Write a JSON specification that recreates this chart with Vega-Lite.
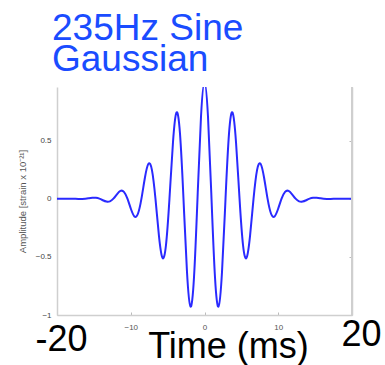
{
  "$schema": "https://vega.github.io/schema/vega-lite/v6.json",
  "width": 295,
  "height": 228,
  "autosize": "none",
  "padding": {"left": 57, "top": 87, "right": 33, "bottom": 50},
  "background": "white",
  "config": {
    "view": {"stroke": null},
    "font": "Liberation Sans",
    "axis": {"grid": false}
  },
  "title": {
    "text": ["235Hz Sine", "Gaussian"],
    "font": "Liberation Sans",
    "fontSize": 37,
    "fontWeight": "normal",
    "color": "#1a4cff",
    "anchor": "start",
    "frame": "group",
    "dx": -5,
    "lineHeight": 31,
    "offset": 7
  },
  "data": {
    "values": [
      {"t": -20, "amp": 0},
      {"t": -18.05, "amp": 0},
      {"t": -17.1, "amp": -0.0023},
      {"t": -16.15, "amp": 0},
      {"t": -15.675, "amp": 0.0042},
      {"t": -15.2, "amp": 0.0081},
      {"t": -14.725, "amp": 0.0077},
      {"t": -14.25, "amp": 0},
      {"t": -13.775, "amp": -0.0136},
      {"t": -13.3, "amp": -0.0251},
      {"t": -12.825, "amp": -0.023},
      {"t": -12.35, "amp": 0},
      {"t": -11.875, "amp": 0.0375},
      {"t": -11.4, "amp": 0.0667},
      {"t": -10.925, "amp": 0.0588},
      {"t": -10.45, "amp": 0},
      {"t": -9.975, "amp": -0.089},
      {"t": -9.5, "amp": -0.1526},
      {"t": -9.025, "amp": -0.1296},
      {"t": -8.55, "amp": 0},
      {"t": -8.075, "amp": 0.1818},
      {"t": -7.6, "amp": 0.3002},
      {"t": -7.125, "amp": 0.2456},
      {"t": -6.65, "amp": 0},
      {"t": -6.175, "amp": -0.3195},
      {"t": -5.7, "amp": -0.5082},
      {"t": -5.225, "amp": -0.4004},
      {"t": -4.75, "amp": 0},
      {"t": -4.275, "amp": 0.4832},
      {"t": -3.8, "amp": 0.7402},
      {"t": -3.325, "amp": 0.5616},
      {"t": -2.85, "amp": 0},
      {"t": -2.375, "amp": -0.6287},
      {"t": -1.9, "amp": -0.9276},
      {"t": -1.425, "amp": -0.6778},
      {"t": -0.95, "amp": 0},
      {"t": -0.475, "amp": 0.7038},
      {"t": 0, "amp": 1.0},
      {"t": 0.475, "amp": 0.7038},
      {"t": 0.95, "amp": 0},
      {"t": 1.425, "amp": -0.6778},
      {"t": 1.9, "amp": -0.9276},
      {"t": 2.375, "amp": -0.6287},
      {"t": 2.85, "amp": 0},
      {"t": 3.325, "amp": 0.5616},
      {"t": 3.8, "amp": 0.7402},
      {"t": 4.275, "amp": 0.4832},
      {"t": 4.75, "amp": 0},
      {"t": 5.225, "amp": -0.4004},
      {"t": 5.7, "amp": -0.5082},
      {"t": 6.175, "amp": -0.3195},
      {"t": 6.65, "amp": 0},
      {"t": 7.125, "amp": 0.2456},
      {"t": 7.6, "amp": 0.3002},
      {"t": 8.075, "amp": 0.1818},
      {"t": 8.55, "amp": 0},
      {"t": 9.025, "amp": -0.1296},
      {"t": 9.5, "amp": -0.1526},
      {"t": 9.975, "amp": -0.089},
      {"t": 10.45, "amp": 0},
      {"t": 10.925, "amp": 0.0588},
      {"t": 11.4, "amp": 0.0667},
      {"t": 11.875, "amp": 0.0375},
      {"t": 12.35, "amp": 0},
      {"t": 12.825, "amp": -0.023},
      {"t": 13.3, "amp": -0.0251},
      {"t": 13.775, "amp": -0.0136},
      {"t": 14.25, "amp": 0},
      {"t": 14.725, "amp": 0.0077},
      {"t": 15.2, "amp": 0.0081},
      {"t": 15.675, "amp": 0.0042},
      {"t": 16.15, "amp": 0},
      {"t": 17.1, "amp": -0.0023},
      {"t": 18.05, "amp": 0},
      {"t": 20, "amp": 0}
    ]
  },
  "resolve": {"axis": {"y": "independent"}},
  "layer": [
    {
      "mark": {"type": "line", "color": "#2a2aff", "strokeWidth": 2, "interpolate": "natural", "clip": true},
      "encoding": {
        "x": {
          "field": "t",
          "type": "quantitative",
          "scale": {"domain": [-20, 20], "nice": false, "zero": false},
          "axis": {
            "values": [-20, -10, 0, 10, 20],
            "labelExpr": "abs(datum.value) == 20 ? replace(datum.label, '−', '-') : datum.label",
            "domainColor": "#cfcfcf",
            "domainWidth": 1.5,
            "tickColor": "#bbbbbb",
            "tickSize": -3,
            "labelFlush": false,
            "labelOverlap": false,
            "labelAlign": "center",
            "labelBaseline": "alphabetic",
            "labelPadding": 17,
            "labelFont": "Liberation Sans",
            "labelFontSize": {"condition": {"test": "abs(datum.value) == 20", "value": 36}, "value": 8},
            "labelColor": {"condition": {"test": "abs(datum.value) == 20", "value": "#000000"}, "value": "#555555"},
            "encoding": {
              "labels": {
                "dx": {
                  "condition": [
                    {"test": "datum.value == -20", "value": 4},
                    {"test": "datum.value == 20", "value": 9}
                  ],
                  "value": 0
                },
                "dy": {
                  "condition": [
                    {"test": "datum.value == -20", "value": 21},
                    {"test": "datum.value == 20", "value": 16}
                  ],
                  "value": 0
                }
              }
            },
            "title": "Time (ms)",
            "titleFont": "Liberation Sans",
            "titleFontSize": 36,
            "titleFontWeight": "normal",
            "titleColor": "#000000",
            "titleX": 171,
            "titleY": 42,
            "titleAlign": "center",
            "titleBaseline": "alphabetic"
          }
        },
        "y": {
          "field": "amp",
          "type": "quantitative",
          "scale": {"domain": [-1, 0.96], "nice": false, "zero": false},
          "axis": {
            "orient": "left",
            "values": [-1, -0.5, 0, 0.5],
            "format": "~g",
            "domainColor": "#cfcfcf",
            "domainWidth": 1.5,
            "ticks": false,
            "labelPadding": 6,
            "labelFont": "Liberation Sans",
            "labelFontSize": 8,
            "labelColor": "#444444",
            "title": "Amplitude [strain x 10⁻²¹]",
            "titleFont": "Liberation Sans",
            "titleFontSize": 9.5,
            "titleFontWeight": "normal",
            "titleColor": "#555555",
            "titlePadding": 8
          }
        }
      }
    },
    {
      "mark": {"type": "rule", "color": "#cfcfcf", "strokeWidth": 1.5},
      "encoding": {
        "x": {"datum": 20, "type": "quantitative"},
        "y": {
          "datum": -1,
          "type": "quantitative",
          "axis": {
            "orient": "right",
            "values": [-0.5, 0, 0.5],
            "domainColor": "#cfcfcf",
            "domainWidth": 1.5,
            "tickColor": "#bbbbbb",
            "tickSize": -3,
            "labels": false,
            "title": null
          }
        },
        "y2": {"datum": 0.96}
      }
    }
  ]
}
